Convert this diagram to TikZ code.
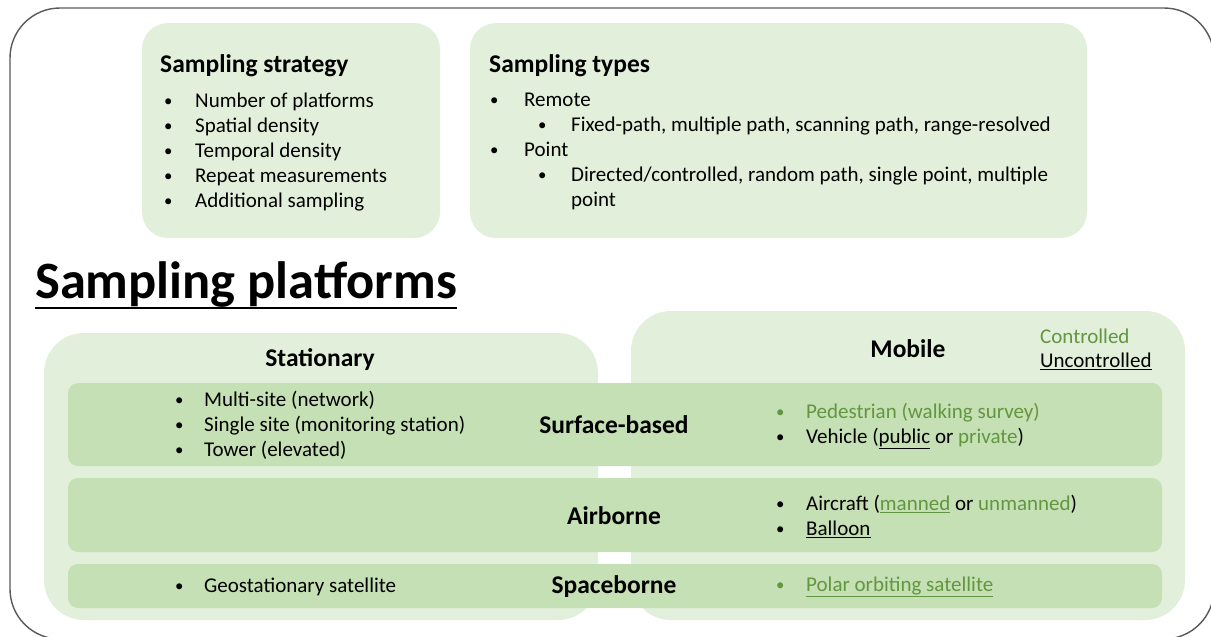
\documentclass[tikz,border=0pt]{standalone}
\usepackage{fontspec}
\setmainfont{Carlito}
\usetikzlibrary{positioning}
\definecolor{paleg}{HTML}{E2EFDA}
\definecolor{bandg}{HTML}{C5E0B4}
\definecolor{textg}{RGB}{98,150,64}
\newcommand\bul[1][29pt]{\makebox[#1][l]{\hspace*{-2pt}\raisebox{1pt}{\scalebox{0.8}{\textbullet}}}}
\newcommand\gul[1]{\textcolor{textg}{\underline{#1}}}

\begin{document}
\begin{tikzpicture}[x=1pt,y=-1pt,
    panel/.style={fill=paleg,rounded corners=26pt},
    band/.style={fill=bandg,rounded corners=10pt},
    head/.style={font=\fontsize{25.5}{30}\selectfont\bfseries,inner sep=0pt},
    list/.style={font=\fontsize{21}{25}\selectfont,align=left,inner sep=0pt,anchor=north west}]
    \useasboundingbox (0,0) rectangle (1211,637);
    \draw[line width=1.4pt,black!65,rounded corners=50pt] (10,8) rectangle (1214,639);

    \fill[panel] (142,23) rectangle (440,238);
    \fill[panel] (470,23) rectangle (1087,238);
    \fill[panel,rounded corners=40pt] (44,333) rectangle (598,620);
    \fill[panel,rounded corners=40pt] (631,311) rectangle (1185,620);
    \fill[band] (68,383) rectangle (1162,466);
    \fill[band] (68,478) rectangle (1162,552);
    \fill[band] (68,564) rectangle (1162,608);

    \node(strathead)[head,anchor=west] at (160,66) {Sampling strategy};
    \node(stratlist)[list] at (166,93) {\bul Number of platforms\\ \bul Spatial density\\
        \bul Temporal density\\ \bul Repeat measurements\\ \bul Additional sampling};
    \node(typeshead)[head,anchor=west] at (489,66) {Sampling types};
    \node(typeslist)[list] at (492,93) {\bul[32pt]Remote\\
        \hspace*{48pt}\bul[31pt]Fixed-path, multiple path, scanning path, range-resolved\\
        \bul[32pt]Point\\
        \hspace*{48pt}\bul[31pt]Directed/controlled, random path, single point, multiple\\
        \hspace*{79pt}point};

    \node(title)[inner sep=0pt,anchor=west,font=\fontsize{52.5}{58}\selectfont\bfseries] at (35,285) {Sampling platforms};
    \draw[line width=2.6pt] ([yshift=-9pt]title.base west) -- ([yshift=-9pt]title.base east);

    \node(stat)[head] at (320,360) {Stationary};
    \node(mob)[head] at (908,349) {Mobile};
    \node(ctrl)[list,anchor=west,text=textg] at (1040,336) {Controlled};
    \node(unctrl)[list,anchor=west] at (1040,361) {\underline{Uncontrolled}};

    \node(surf)[head] at (614,425) {Surface-based};
    \node(air)[head] at (614,516) {Airborne};
    \node(space)[head] at (614,587) {Spaceborne};

    \node(statsurf)[list] at (177,391) {\bul[27pt]Multi-site (network)\\
        \bul[27pt]Single site (monitoring station)\\ \bul[27pt]Tower (elevated)};
    \node(statspace)[list,anchor=west] at (177,587) {\bul[27pt]Geostationary satellite};
    \node(mobsurf)[list] at (778,403) {\textcolor{textg}{\bul[28pt]Pedestrian (walking survey)}\\
        \bul[28pt]Vehicle (\underline{public} or \textcolor{textg}{private})};
    \node(mobair)[list] at (778,495) {\bul[28pt]Aircraft (\gul{manned} or \textcolor{textg}{unmanned})\\
        \bul[28pt]\underline{Balloon}};
    \node(mobspace)[list,anchor=west] at (778,587) {\textcolor{textg}{\bul[28pt]}\gul{Polar orbiting satellite}};
\end{tikzpicture}
\end{document}
